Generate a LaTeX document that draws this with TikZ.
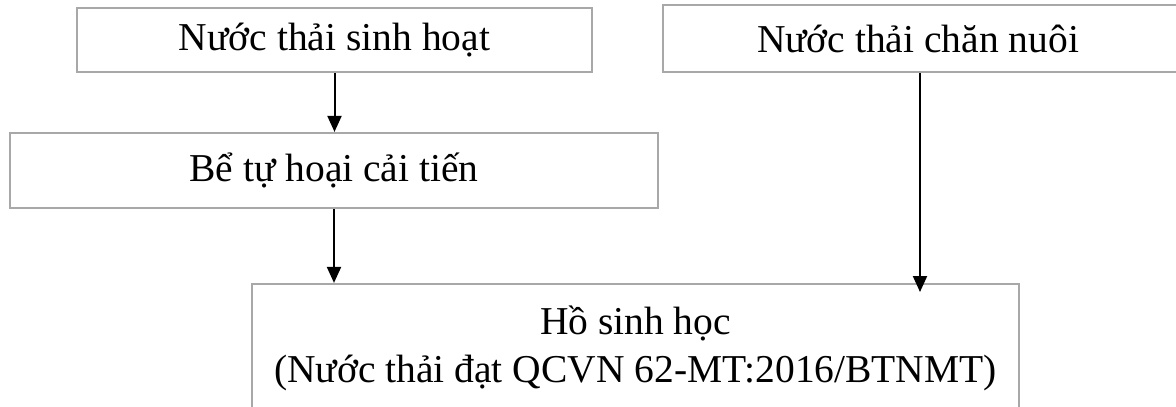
\documentclass[tikz,border=0pt]{standalone}
\usepackage{fontspec}
\setmainfont{Liberation Serif}
\usetikzlibrary{arrows.meta}
\definecolor{boxgray}{RGB}{168,168,168}
\begin{document}
\begin{tikzpicture}[x=1pt,y=-1pt,
  box/.style={draw=boxgray,line width=2.2pt,rectangle,inner sep=0pt,align=center,
    font=\fontsize{39.5}{48}\selectfont},
  arr/.style={line width=2pt,-{Triangle[width=14pt,length=16pt]}}]
\useasboundingbox (0,0) rectangle (1176,407);
\clip (0,0) rectangle (1176,407);
\node[box,minimum width=515pt,minimum height=64pt] (b1) at (334.5,40) {Nước thải sinh hoạt};
\node[box,minimum width=522pt,minimum height=67pt] (b2) at (924,38.5) {\hspace*{-12pt}Nước thải chăn nuôi};
\node[box,minimum width=648pt,minimum height=75pt] (b3) at (334,170.5) {Bể tự hoại cải tiến};
\node[box,minimum width=767pt,minimum height=128pt] (b4) at (635.5,348) {Hồ sinh học\\(Nước thải đạt QCVN 62-MT:2016/BTNMT)};
\coordinate (e3) at (920,292);
\draw[arr] (b1.south) -- (b1.south |- b3.north);
\draw[arr] (b3.south) -- (b3.south |- b4.north);
\draw[arr] (b2.south -| e3) -- (e3);
\end{tikzpicture}
\end{document}
